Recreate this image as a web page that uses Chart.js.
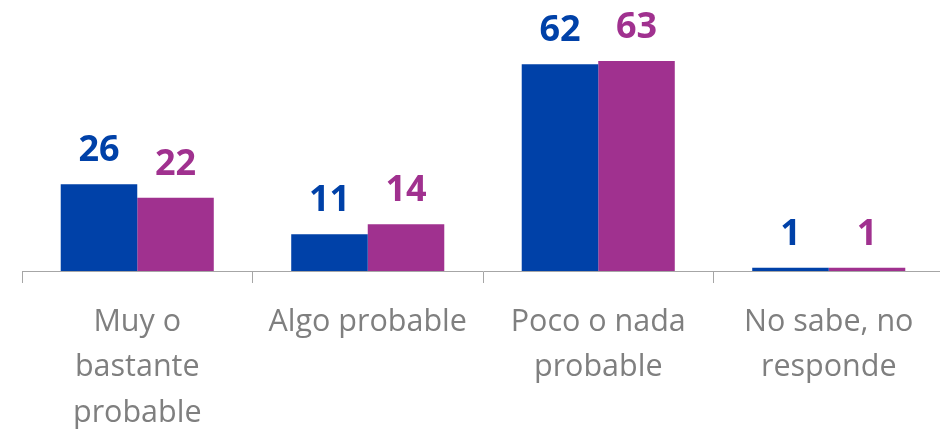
<!DOCTYPE html>
<html>
<head>
<meta charset="utf-8">
<script src="https://cdn.jsdelivr.net/npm/chart.js@4/dist/chart.umd.min.js"></script>
<style>
  html, body { margin: 0; padding: 0; background: #fff; overflow: hidden; }
  #wrap { width: 946px; height: 431px; }
</style>
</head>
<body>
<div id="wrap"><canvas id="barChart" width="946" height="431"></canvas></div>
<script>
// datos
const categories = [
    ['Muy o', 'bastante', 'probable'],
    ['Algo probable'],
    ['Poco o nada', 'probable'],
    ['No sabe, no', 'responde']
];
const serieA = [26, 11, 62, 1];
const serieB = [22, 14, 63, 1];

const BLUE = '#0041A8';
const PURPLE = '#A0318F';

// etiquetas encima de las barras
const valueLabels = {
    id: 'valueLabels',
    afterDatasetsDraw(chart) {
        const ctx = chart.ctx;
        ctx.save();
        ctx.font = 'bold 36px "Open Sans"';
        ctx.textAlign = 'center';
        ctx.textBaseline = 'alphabetic';
        chart.data.datasets.forEach((ds, i) => {
            chart.getDatasetMeta(i).data.forEach((bar, j) => {
                ctx.fillStyle = ds.backgroundColor;
                ctx.fillText(ds.data[j], bar.x, bar.y - 23);
            });
        });
        ctx.restore();
    }
};

const ctx = document.getElementById('barChart').getContext('2d');
new Chart(ctx, {
    type: 'bar',
    data: {
        labels: categories,
        datasets: [
            { label: 'A', data: serieA, backgroundColor: BLUE },
            { label: 'B', data: serieB, backgroundColor: PURPLE }
        ]
    },
    options: {
        responsive: false,
        animation: false,
        layout: { padding: { left: 22, right: 2, top: 0, bottom: 0 } },
        datasets: { bar: { categoryPercentage: 0.664, barPercentage: 1 } },
        scales: {
            x: {
                grid: { offset: true, drawOnChartArea: false, tickLength: 12, color: '#A6A6A6' },
                border: { display: true, color: '#A6A6A6', width: 1 },
                ticks: {
                    color: '#7F7F7F',
                    font: { family: '"Open Sans"', size: 30.5, lineHeight: 1.48 },
                    maxRotation: 0,
                    autoSkip: false,
                    padding: 17
                },
                afterFit: s => { s.height = 160; }
            },
            y: { display: false, min: 0, max: 81.3 }
        },
        plugins: { legend: { display: false }, tooltip: { enabled: false } }
    },
    plugins: [valueLabels]
});
</script>
</body>
</html>
